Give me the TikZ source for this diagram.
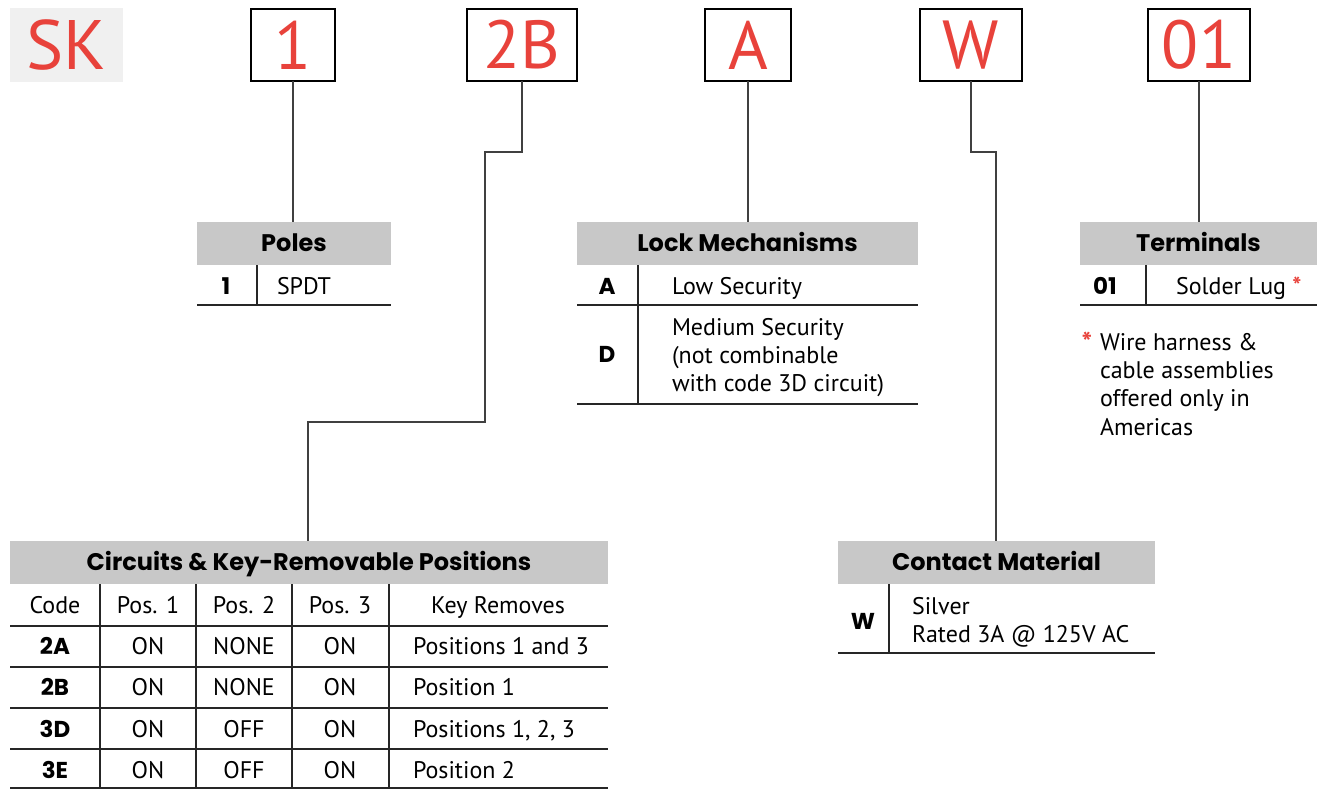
\documentclass[tikz,border=0pt]{standalone}
\usepackage{fontspec}
\setmainfont{PT Sans}
\newfontfamily\hfont{Poppins}
\definecolor{skred}{HTML}{E8423B}
\definecolor{hdrgray}{HTML}{C8C8C8}
\definecolor{skbg}{HTML}{F0F0F0}
\begin{document}
\begin{tikzpicture}[x=0.5pt,y=-0.5pt,
  every node/.style={inner sep=0pt,outer sep=0pt},
  letterbox/.style={draw=black,line width=1.3pt,minimum height=36pt,text=skred,font=\fontsize{34}{34}\selectfont},
  hdr/.style={fill=hdrgray,minimum height=21.5pt,text height=8.4pt,text depth=0pt,font=\hfont\bfseries\fontsize{12}{14}\selectfont},
  body/.style={font=\fontsize{12}{14}\selectfont},
  bodyb/.style={font=\hfont\bfseries\fontsize{11.5}{14}\selectfont},
  rule/.style={line width=0.75pt,draw=black!85},
  wire/.style={line width=0.75pt,draw=black!75}]
\useasboundingbox (0,0) rectangle (1320,790);

% top code boxes
\node[fill=skbg,minimum width=56.5pt,minimum height=37pt,text=skred,font=\fontsize{35}{35}\selectfont] (sk) at (66.5,45) {SK};
\node[letterbox,minimum width=42pt] (b1) at (293,45) {1};
\node[letterbox,minimum width=55pt] (b2) at (522,45) {2B};
\node[letterbox,minimum width=43pt] (bA) at (748,45) {A};
\node[letterbox,minimum width=51pt] (bW) at (971,45) {W};
\node[letterbox,minimum width=51pt] (b01) at (1199,45) {01};

% headers
\node[hdr,minimum width=97pt] (poles) at (294,243.5) {Poles};
\node[hdr,minimum width=170.5pt] (lock) at (747.5,243.5) {Lock Mechanisms};
\node[hdr,minimum width=118.5pt] (term) at (1198.5,243.5) {Terminals};
\node[hdr,minimum width=299pt] (circ) at (309,562.5) {Circuits \& Key-Removable Positions};
\node[hdr,minimum width=158.5pt] (cont) at (996.5,562.5) {Contact Material};

% connectors
\coordinate (k2a) at (485,152);
\coordinate (k2b) at (308,422);
\coordinate (kw) at (996,152);
\draw[wire] (b1.south) -- (b1.south |- poles.north);
\draw[wire] (b2.south) |- (k2a) |- (k2b) -- (k2b |- circ.north);
\draw[wire] (bA.south) -- (bA.south |- lock.north);
\draw[wire] (bW.south) |- (kw) -- (kw |- cont.north);
\draw[wire] (b01.south) -- (b01.south |- term.north);

% Poles table
\draw[rule] (257,265) -- (257,305);
\draw[rule] (197,305) -- (391,305);
\node[bodyb,anchor=base] (p1c) at (226,295) {1};
\node[body,anchor=base west] (p1t) at (277,295) {SPDT};

% Lock table
\draw[rule] (638,265) -- (638,404);
\draw[rule] (577,305) -- (918,305);
\draw[rule] (577,404) -- (918,404);
\node[bodyb,anchor=base] (lac) at (607,295) {A};
\node[body,anchor=base west] (lat) at (672,295) {Low Security};
\node[bodyb,anchor=base] (ldc) at (607,363) {D};
\node[body,anchor=base west] (ld1) at (672,336) {Medium Security};
\node[body,anchor=base west] (ld2) at (672,364) {(not combinable};
\node[body,anchor=base west] (ld3) at (672,392) {with code 3D circuit)};

% Terminals table
\draw[rule] (1146,265) -- (1146,305);
\draw[rule] (1080,305) -- (1317,305);
\node[bodyb,anchor=base] (t1c) at (1105,295) {01};
\node[body,anchor=base west] (t1t) at (1176,295) {Solder Lug \textcolor{skred}{\bfseries *}};
\node[anchor=base,text=skred,font=\bfseries\fontsize{14}{14}\selectfont] (fnst) at (1087,353) {*};
\node[body,anchor=base west] (fn1) at (1100,351) {Wire harness \&};
\node[body,anchor=base west] (fn2) at (1100,379) {cable assemblies};
\node[body,anchor=base west] (fn3) at (1100,407) {offered only in};
\node[body,anchor=base west] (fn4) at (1100,436) {Americas};

% Circuits table
\foreach \yy in {626,667,708,749,788} \draw[rule] (10,\yy) -- (608,\yy);
\foreach \xx in {100,196,292,389} \draw[rule] (\xx,584) -- (\xx,788);
\node[body,anchor=base] (hc0) at (55,613) {Code};
\node[body,anchor=base] (hc1) at (148,613) {Pos. 1};
\node[body,anchor=base] (hc2) at (244,613) {Pos. 2};
\node[body,anchor=base] (hc3) at (340,613) {Pos. 3};
\node[body,anchor=base] (hc4) at (498,613) {Key Removes};
\node[bodyb,anchor=base] (r1c) at (55,654) {2A};
\node[body,anchor=base] (r1a) at (148,654) {ON};
\node[body,anchor=base] (r1b) at (244,654) {NONE};
\node[body,anchor=base] (r1d) at (340,654) {ON};
\node[body,anchor=base west] (r1e) at (413,654) {Positions 1 and 3};
\node[bodyb,anchor=base] (r2c) at (55,695) {2B};
\node[body,anchor=base] (r2a) at (148,695) {ON};
\node[body,anchor=base] (r2b) at (244,695) {NONE};
\node[body,anchor=base] (r2d) at (340,695) {ON};
\node[body,anchor=base west] (r2e) at (413,695) {Position 1};
\node[bodyb,anchor=base] (r3c) at (55,737) {3D};
\node[body,anchor=base] (r3a) at (148,737) {ON};
\node[body,anchor=base] (r3b) at (244,737) {OFF};
\node[body,anchor=base] (r3d) at (340,737) {ON};
\node[body,anchor=base west] (r3e) at (413,737) {Positions 1, 2, 3};
\node[bodyb,anchor=base] (r4c) at (55,778) {3E};
\node[body,anchor=base] (r4a) at (148,778) {ON};
\node[body,anchor=base] (r4b) at (244,778) {OFF};
\node[body,anchor=base] (r4d) at (340,778) {ON};
\node[body,anchor=base west] (r4e) at (413,778) {Position 2};

% Contact table
\draw[rule] (889,584) -- (889,653);
\draw[rule] (838,653) -- (1155,653);
\node[bodyb,anchor=base] (cwc) at (863,629) {W};
\node[body,anchor=base west] (cw1) at (912,614) {Silver};
\node[body,anchor=base west] (cw2) at (912,642) {Rated 3A @ 125V AC};
\end{tikzpicture}
\end{document}
